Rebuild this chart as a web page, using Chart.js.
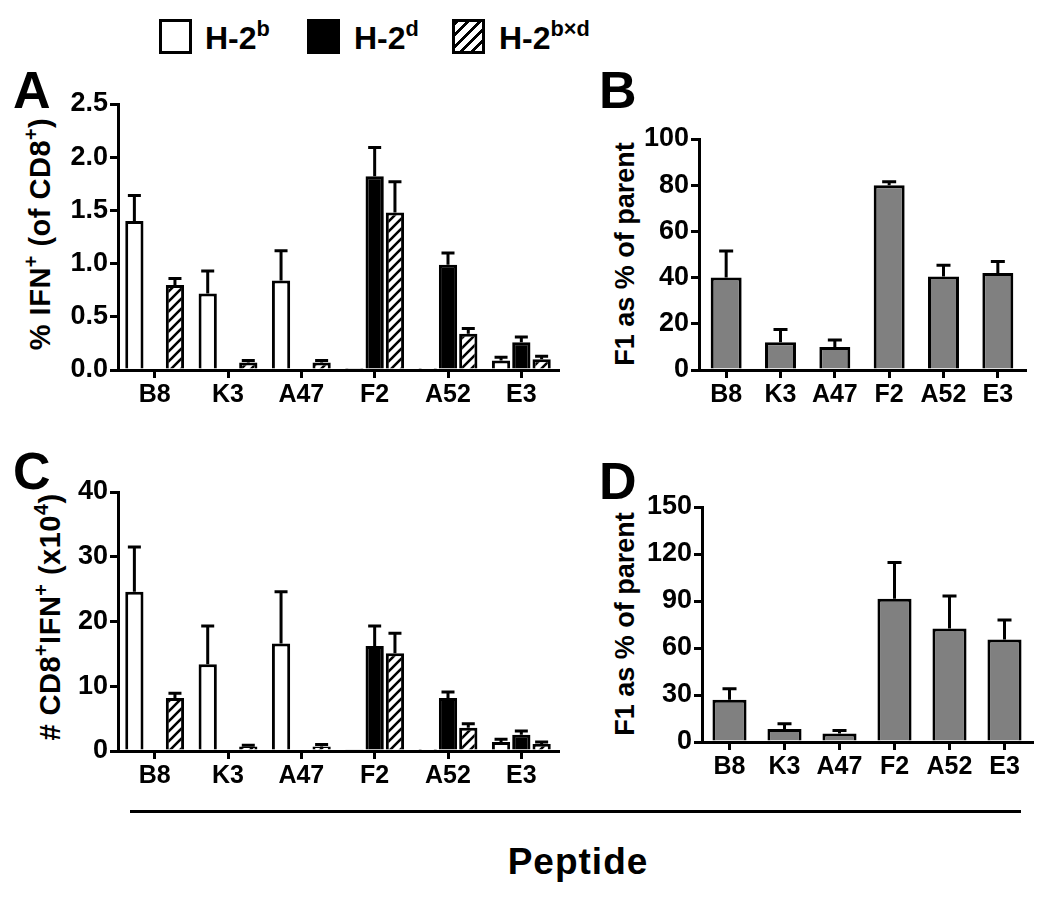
<!DOCTYPE html>
<html>
<head>
<meta charset="utf-8">
<script src="https://cdn.jsdelivr.net/npm/chart.js@4.4.1/dist/chart.umd.min.js"></script>
<style>
  body { margin: 0; background: #fff; font-family: "Liberation Sans", Arial, sans-serif; font-weight: bold; color: #000; }
  #page { position: relative; width: 1050px; height: 897px; overflow: hidden; }
  canvas { position: absolute; }
  .abs { position: absolute; white-space: nowrap; }
  .letter { font-size: 52px; line-height: 1; }
  .ytitle { font-size: 27px; line-height: 1; transform: translate(-50%, -50%) rotate(-90deg); }
  .big { font-size: 29px; letter-spacing: 0.5px; }
  .ytitle sup, .leg sup { font-size: 68%; vertical-align: 0; position: relative; top: -0.6em; }
  .box { position: absolute; width: 27px; height: 29px; border: 3px solid #000; box-sizing: content-box; }
  .leg { font-size: 32px; line-height: 1; }
</style>
</head>
<body>
<div id="page">
  <!-- legend -->
  <div class="box" style="left:159px;top:19px;background:#fff;"></div>
  <div class="abs leg" style="left:205px;top:22px;">H-2<sup>b</sup></div>
  <div class="box" style="left:307px;top:19px;background:#000;"></div>
  <div class="abs leg" style="left:354px;top:22px;">H-2<sup>d</sup></div>
  <div class="box" style="left:452px;top:19px;background:repeating-linear-gradient(-45deg,#fff 0 5px,#000 5px 8px);"></div>
  <div class="abs leg" style="left:499px;top:22px;">H-2<sup>b×d</sup></div>

  <div class="abs letter" style="left:13px;top:64px;">A</div>
  <div class="abs letter" style="left:599px;top:64px;">B</div>
  <div class="abs letter" style="left:13px;top:445px;">C</div>
  <div class="abs letter" style="left:599px;top:455px;">D</div>

  <div class="abs ytitle big" style="left:40px;top:234px;">% IFN<sup>+</sup> (of CD8<sup>+</sup>)</div>
  <div class="abs ytitle" style="left:625px;top:254px;">F1 as % of parent</div>
  <div class="abs ytitle big" style="left:50px;top:617px;"># CD8<sup>+</sup>IFN<sup>+</sup> (x10<sup>4</sup>)</div>
  <div class="abs ytitle" style="left:625px;top:624px;">F1 as % of parent</div>

  <canvas id="chartA" width="510" height="340" style="left:60px;top:80px;"></canvas>
  <canvas id="chartB" width="400" height="310" style="left:640px;top:110px;"></canvas>
  <canvas id="chartC" width="510" height="330" style="left:60px;top:470px;"></canvas>
  <canvas id="chartD" width="400" height="320" style="left:640px;top:480px;"></canvas>

  <div class="abs" style="left:130px;top:810px;width:891px;height:3px;background:#000;"></div>
  <div class="abs" style="left:578px;top:862px;transform:translate(-50%,-50%);font-size:37px;letter-spacing:1px;">Peptide</div>
</div>

<script>
const peptides = ['B8', 'K3', 'A47', 'F2', 'A52', 'E3'];

// Panel A: % IFN+ of CD8+
const pctH2b = [1.40, 0.72, 0.84, 0.01, 0.005, 0.09];
const pctH2bErr = [0.24, 0.21, 0.28, 0, 0, 0.03];
const pctH2d = [0, 0, 0, 1.82, 0.99, 0.26];
const pctH2dErr = [0, 0, 0, 0.27, 0.11, 0.05];
const pctH2bxd = [0.80, 0.07, 0.07, 1.48, 0.34, 0.10];
const pctH2bxdErr = [0.06, 0.02, 0.02, 0.29, 0.05, 0.03];

// Panel B: F1 as % of parent (frequency)
const f1Pct = [40, 12, 10, 80, 40.5, 42];
const f1PctErr = [11.5, 5.5, 3, 1.5, 4.8, 5];

// Panel C: # CD8+IFN+ (x10^4)
const numH2b = [24.6, 13.4, 16.6, 0.2, 0.1, 1.4];
const numH2bErr = [6.9, 5.9, 8.0, 0, 0, 0.4];
const numH2d = [0, 0, 0, 16.2, 8.2, 2.5];
const numH2dErr = [0, 0, 0, 3.1, 0.9, 0.6];
const numH2bxd = [8.2, 0.7, 0.7, 15.1, 3.6, 1.1];
const numH2bxdErr = [0.7, 0.2, 0.3, 3.1, 0.6, 0.3];

// Panel D: F1 as % of parent (numbers)
const f1Num = [27, 8.3, 5.5, 91.5, 72.5, 65.5];
const f1NumErr = [7, 3.4, 1.9, 23, 20.7, 12.3];

Chart.defaults.font.family = '"Liberation Sans", Arial, sans-serif';
Chart.defaults.font.weight = 'bold';
Chart.defaults.color = '#000';

function hatch() {
    const c = document.createElement('canvas');
    c.width = 10; c.height = 10;
    const g = c.getContext('2d');
    g.fillStyle = '#fff';
    g.fillRect(0, 0, 10, 10);
    g.strokeStyle = '#000';
    g.lineWidth = 2.6;
    g.beginPath();
    g.moveTo(-2, 12); g.lineTo(12, -2);
    g.moveTo(-2, 2); g.lineTo(2, -2);
    g.moveTo(8, 12); g.lineTo(12, 8);
    g.stroke();
    return g.createPattern(c, 'repeat');
}

// upper error bars drawn on the library's own y scale
const errorBars = {
    id: 'errorBars',
    afterDatasetsDraw(chart) {
        const ctx = chart.ctx;
        const y = chart.scales.y;
        ctx.save();
        ctx.strokeStyle = '#000';
        ctx.lineWidth = 3;
        chart.data.datasets.forEach((ds, di) => {
            if (!ds.errors) return;
            const meta = chart.getDatasetMeta(di);
            meta.data.forEach((bar, i) => {
                const err = ds.errors[i];
                if (!err) return;
                const top = y.getPixelForValue(ds.data[i] + err);
                const cap = ds.capWidth / 2;
                ctx.beginPath();
                ctx.moveTo(bar.x, bar.y);
                ctx.lineTo(bar.x, top);
                ctx.moveTo(bar.x - cap, top);
                ctx.lineTo(bar.x + cap, top);
                ctx.stroke();
            });
        });
        ctx.restore();
    }
};

function makeChart(id, datasets, yMax, yStep, decimals, box) {
    return new Chart(document.getElementById(id), {
        type: 'bar',
        data: { labels: peptides, datasets: datasets },
        options: {
            responsive: false,
            animation: false,
            devicePixelRatio: 1,
            layout: { padding: { top: box.top, right: box.right, left: 0, bottom: 0 } },
            plugins: { legend: { display: false }, tooltip: { enabled: false } },
            scales: {
                x: {
                    grid: { display: true, drawOnChartArea: false, offset: false, tickLength: 8, lineWidth: 3, color: '#000' },
                    border: { color: '#000', width: 3 },
                    ticks: { font: { size: 25, weight: 'bold' }, padding: 2, maxRotation: 0 },
                    afterFit: s => { s.height = box.xh; }
                },
                y: {
                    min: 0,
                    max: yMax,
                    grid: { display: true, drawOnChartArea: false, tickLength: 8, lineWidth: 3, color: '#000' },
                    border: { color: '#000', width: 3 },
                    ticks: {
                        stepSize: yStep,
                        font: { size: 27, weight: 'bold' },
                        padding: 2,
                        callback: v => v.toFixed(decimals)
                    },
                    afterFit: s => { s.width = box.yw; }
                }
            }
        },
        plugins: [errorBars]
    });
}

function groupSet(values, errors, fill) {
    return {
        data: values, errors: errors, capWidth: 13,
        backgroundColor: fill, borderColor: '#000', borderWidth: 3,
        categoryPercentage: 0.83, barPercentage: 0.9
    };
}

function graySet(values, errors, barPct) {
    return {
        data: values, errors: errors, capWidth: 14,
        backgroundColor: '#808080', borderColor: '#000', borderWidth: 3,
        categoryPercentage: 1, barPercentage: barPct
    };
}

const pattern = hatch();

makeChart('chartA', [
    groupSet(pctH2b, pctH2bErr, '#fff'),
    groupSet(pctH2d, pctH2dErr, '#000'),
    groupSet(pctH2bxd, pctH2bxdErr, pattern)
], 2.5, 0.5, 1, { top: 24, right: 12, yw: 58, xh: 50 });

makeChart('chartB', [graySet(f1Pct, f1PctErr, 0.57)], 100, 20, 0,
    { top: 29, right: 15, yw: 59, xh: 50 });

makeChart('chartC', [
    groupSet(numH2b, numH2bErr, '#fff'),
    groupSet(numH2d, numH2dErr, '#000'),
    groupSet(numH2bxd, numH2bxdErr, pattern)
], 40, 10, 0, { top: 22, right: 12, yw: 58, xh: 49 });

makeChart('chartD', [graySet(f1Num, f1NumErr, 0.62)], 150, 30, 0,
    { top: 27, right: 8, yw: 62, xh: 58 });
</script>
</body>
</html>
